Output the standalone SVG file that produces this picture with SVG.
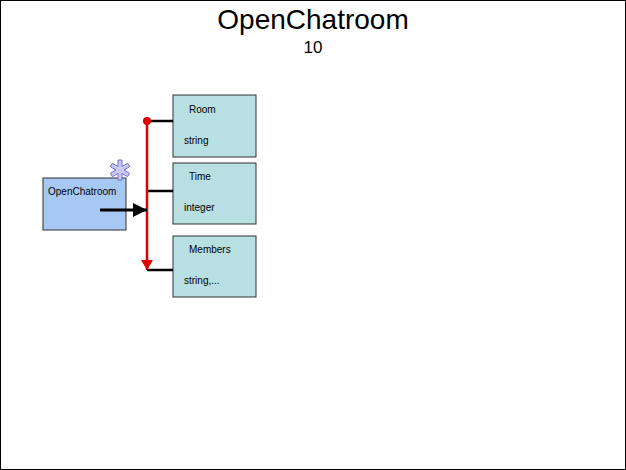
<svg xmlns="http://www.w3.org/2000/svg" width="626" height="470" viewBox="0 0 626 470">
<defs>
<style>
text{font-family:"Liberation Sans",Arial,sans-serif;fill:#000}
.lbl{font-size:10px}
.attr{fill:#b8dfe1;stroke:#333;stroke-width:1}
.stub{stroke:#000;stroke-width:2.5;fill:none}
</style>
<marker id="redHead" viewBox="0 0 10 12" refX="10" refY="6" markerWidth="10" markerHeight="12" markerUnits="userSpaceOnUse" orient="auto">
<path d="M0,0 L10,6 L0,12 Z" fill="#e00000"/>
</marker>
<marker id="blackHead" viewBox="0 0 14 14" refX="14" refY="7" markerWidth="14" markerHeight="14" markerUnits="userSpaceOnUse" orient="auto">
<path d="M0,0 L14,7 L0,14 Z" fill="#000"/>
</marker>
</defs>
<rect x="0.5" y="0.5" width="625" height="469" fill="#fff" stroke="#000" stroke-width="1"/>
<text x="313" y="29" font-size="28" text-anchor="middle">OpenChatroom</text>
<text x="313" y="53" font-size="17" text-anchor="middle">10</text>

<g id="node-openchatroom">
<rect x="43" y="178" width="83" height="52" fill="#a7c8f2" stroke="#333" stroke-width="1"/>
<text class="lbl" x="48" y="195">OpenChatroom</text>
</g>
<g id="icon-asterisk" fill="#c8c8f4" stroke="#7070d0" stroke-width="1">
<path d="M118,160 h4 v6.5 l5.6,-3.2 l2,3.4 l-5.6,3.3 l5.6,3.3 l-2,3.4 l-5.6,-3.2 v6.5 h-4 v-6.5 l-5.6,3.2 l-2,-3.4 l5.6,-3.3 l-5.6,-3.3 l2,-3.4 l5.6,3.2 Z"/>
</g>
<g id="node-room">
<rect class="attr" x="173" y="95" width="83" height="62"/>
<text class="lbl" x="189" y="113">Room</text>
<text class="lbl" x="184" y="144">string</text>
</g>
<g id="node-time">
<rect class="attr" x="173" y="163" width="83" height="61"/>
<text class="lbl" x="189" y="180">Time</text>
<text class="lbl" x="184" y="211">integer</text>
</g>
<g id="node-members">
<rect class="attr" x="173" y="236" width="83" height="61"/>
<text class="lbl" x="189" y="253">Members</text>
<text class="lbl" x="184" y="284">string,...</text>
</g>
<g id="connectors">
<line class="stub" x1="147" y1="121" x2="173" y2="121"/>
<line class="stub" x1="147" y1="191" x2="173" y2="191"/>
<line class="stub" x1="147" y1="270" x2="173" y2="270"/>
<line x1="147" y1="121" x2="147" y2="270" stroke="#e00000" stroke-width="2.5" marker-end="url(#redHead)"/>
<circle cx="147" cy="121" r="4" fill="#e00000"/>
<line x1="100" y1="210" x2="147" y2="210" stroke="#000" stroke-width="3" marker-end="url(#blackHead)"/>
</g>
</svg>
